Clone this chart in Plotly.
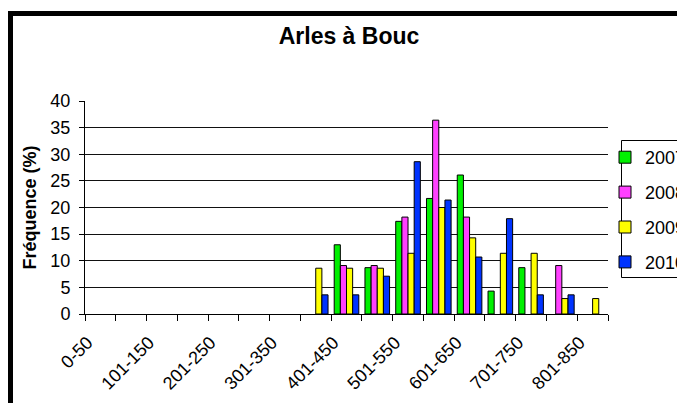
import plotly.graph_objects as go

categories = ["0-50", "51-100", "101-150", "151-200", "201-250", "251-300",
              "301-350", "351-400", "401-450", "451-500", "501-550", "551-600",
              "601-650", "651-700", "701-750", "751-800", "801-850"]
years = ["2007", "2008", "2009", "2010"]
freq_2007 = [0, 0, 0, 0, 0, 0, 0, 0, 13.0, 8.7, 17.4, 21.7, 26.1, 4.3, 8.7, 0, 0]
freq_2008 = [0, 0, 0, 0, 0, 0, 0, 0, 9.1, 9.1, 18.2, 36.4, 18.2, 0, 0, 9.1, 0]
freq_2009 = [0, 0, 0, 0, 0, 0, 0, 8.6, 8.6, 8.6, 11.4, 20.0, 14.3, 11.4, 11.4, 2.9, 2.9]
freq_2010 = [0, 0, 0, 0, 0, 0, 0, 3.6, 3.6, 7.1, 28.6, 21.4, 10.7, 17.9, 3.6, 3.6, 0]
series = [freq_2007, freq_2008, freq_2009, freq_2010]
colors = ["#00F000", "#FF40FF", "#FFFF00", "#0033FF"]
y_ticks = [0, 5, 10, 15, 20, 25, 30, 35, 40]

# the page body adds an 8px offset; work in window pixels and subtract it
OFF = 8
W, H = 685 - OFF, 403 - OFF
PL, PR, PT, PB = 85, 608, 101, 314          # plot area in window pixels
L, R, T, B = PL - OFF, W - (PR - OFF), PT - OFF, H - (PB - OFF)
pw, ph = W - L - R, H - T - B


def px2x(px):
    return (px - PL) / pw


def py2y(py):
    return (PB - py) / ph


FONT = "Liberation Sans, Arial, sans-serif"
idx = list(range(len(categories)))

fig = go.Figure()
for name, vals, col in zip(years, series, colors):
    fig.add_trace(go.Bar(
        x=idx, y=[v if v > 0 else None for v in vals], name=name, legendgroup=name,
        marker=dict(color=col, line=dict(color="#000000", width=1)),
    ))

fig.update_layout(
    width=W, height=H,
    margin=dict(l=L, r=R, t=T, b=B, autoexpand=False),
    paper_bgcolor="white", plot_bgcolor="white",
    barmode="group", bargap=0.2, bargroupgap=0,
    font=dict(family=FONT, size=18, color="black"),
    title=dict(text="<b>Arles à Bouc</b>", x=(349 - OFF) / W, xref="container", xanchor="center",
               y=1 - 27.5 / H, yref="container", yanchor="middle",
               font=dict(family=FONT, size=23, color="black")),
    showlegend=True,
    legend=dict(x=px2x(605), y=py2y(139), xanchor="left", yanchor="top",
                bgcolor="rgba(0,0,0,0)", borderwidth=0, tracegroupgap=8.5,
                font=dict(family=FONT, size=18, color="black")),
    xaxis=dict(
        range=[-0.5, len(categories) - 0.5],
        tickmode="array", tickvals=[i - 0.42 for i in idx[::2]], ticktext=categories[::2],
        tickangle=-45, ticks="", showgrid=False, zeroline=False, ticklabelstandoff=10,
        showline=True, linecolor="black", linewidth=1,
        tickfont=dict(family=FONT, size=18, color="black"),
        minor=dict(tickmode="array", tickvals=[i - 0.5 for i in range(len(categories) + 1)],
                   ticks="outside", ticklen=6, tickcolor="black", tickwidth=1, showgrid=False),
    ),
    yaxis=dict(
        range=[0, 40], tickmode="array", tickvals=y_ticks,
        ticks="outside", ticklen=5, tickcolor="black", ticklabelstandoff=5,
        showgrid=True, gridcolor="#111111", gridwidth=1, zeroline=False,
        showline=True, linecolor="black", linewidth=1,
        tickfont=dict(family=FONT, size=18, color="black"),
        title=dict(text="<b>Fréquence (%)</b>", standoff=9,
                   font=dict(family=FONT, size=18, color="black")),
    ),
)

# outer frame of the chart (thick black border on left and top)
fig.add_shape(type="path", xref="paper", yref="paper",
              path=f"M {px2x(10.5)},{py2y(430)} L {px2x(10.5)},{py2y(13.5)} L {px2x(720)},{py2y(13.5)}",
              line=dict(color="black", width=5))
# legend frame
fig.add_shape(type="rect", xref="paper", yref="paper",
              x0=px2x(621.5), x1=px2x(720), y0=py2y(277.5), y1=py2y(140.5),
              line=dict(color="black", width=1))

fig.write_html("out.html")
